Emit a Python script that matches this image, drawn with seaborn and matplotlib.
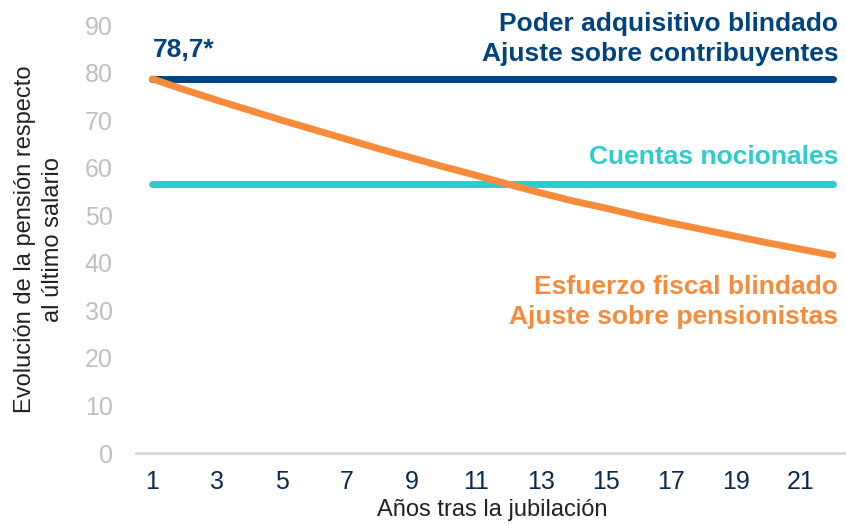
import matplotlib.pyplot as plt
import seaborn as sns
import pandas as pd
from matplotlib.ticker import MultipleLocator, FixedLocator

years = list(range(1, 23))
poder = [78.7] * 22
cuentas = [56.7] * 22
esfuerzo = [78.7, 76.4, 74.2, 72.1, 70.0, 68.0, 66.0, 64.0, 62.1, 60.2, 58.4,
            56.5, 54.7, 53.0, 51.5, 49.9, 48.4, 47.0, 45.6, 44.2, 42.9, 41.6]

df = pd.DataFrame({
    "year": years * 3,
    "value": poder + cuentas + esfuerzo,
    "serie": ["poder"] * 22 + ["cuentas"] * 22 + ["esfuerzo"] * 22,
})

blue = "#00447f"
teal = "#2dcccd"
orange = "#f78b3c"
navy = "#0b2a4f"

sns.set_style("white")
plt.rcParams['font.family'] = ['Liberation Sans', 'DejaVu Sans']

fig = plt.figure(figsize=(8.46, 5.25), dpi=100)
ax = fig.add_axes([0.161, 0.137, 0.8426, 0.815])

sns.lineplot(
    data=df, x="year", y="value", hue="serie",
    palette={"poder": blue, "cuentas": teal, "esfuerzo": orange},
    hue_order=["poder", "cuentas", "esfuerzo"],
    linewidth=5, legend=False, ax=ax,
    solid_capstyle="round",
)

ax.set_xlim(0.5, 22.5)
ax.set_ylim(0, 90)
ax.yaxis.set_major_locator(MultipleLocator(10))
ax.xaxis.set_major_locator(FixedLocator(list(range(1, 22, 2))))
ax.xaxis.set_minor_locator(FixedLocator([x + 0.5 for x in range(0, 22)]))

ax.tick_params(axis="y", length=0, labelsize=18, labelcolor="#c0c0c0", pad=17)
ax.tick_params(axis="x", which="major", length=0, labelsize=18,
               labelcolor=navy, pad=12)
ax.tick_params(axis="x", which="minor", length=7, width=1, color="#d9d9d9",
               direction="out")

for s in ["top", "right", "left"]:
    ax.spines[s].set_visible(False)
ax.spines["bottom"].set_color("#d9d9d9")
ax.spines["bottom"].set_linewidth(2)

ax.set_xlabel("Años tras la jubilación", fontsize=17, color="#222222", labelpad=4)
ax.set_ylabel("Evolución de la pensión respecto\nal último salario",
              fontsize=17, color="#222222", labelpad=15, linespacing=1.35)

ax.text(1.0, 84.7, "78,7*", color=blue, fontsize=19, fontweight="bold",
        ha="left", va="center")
ax.text(22.17, 87.1, "Poder adquisitivo blindado\nAjuste sobre contribuyentes",
        color=blue, fontsize=19, fontweight="bold", ha="right", va="center",
        linespacing=1.3)
ax.text(22.17, 62.2, "Cuentas nocionales", color=teal, fontsize=19,
        fontweight="bold", ha="right", va="center")
ax.text(22.17, 31.8, "Esfuerzo fiscal blindado\nAjuste sobre pensionistas",
        color=orange, fontsize=19, fontweight="bold", ha="right", va="center",
        linespacing=1.3)

fig.savefig("out.png", dpi=100)
